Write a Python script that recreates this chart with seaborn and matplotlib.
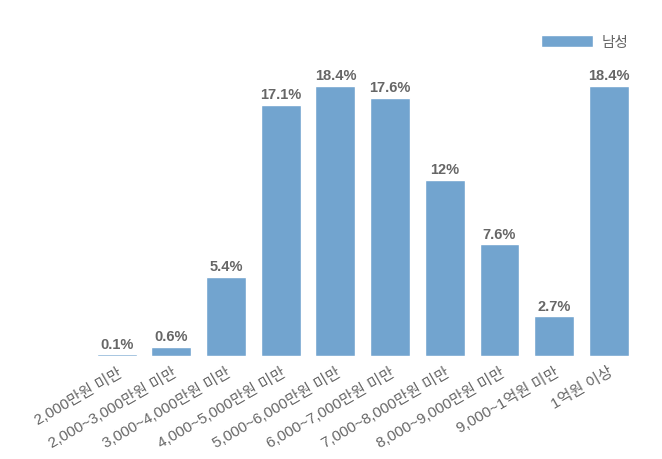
import matplotlib
matplotlib.use("Agg")
import matplotlib.pyplot as plt
import seaborn as sns
import pandas as pd

categories = ["2,000만원 미만", "2,000~3,000만원 미만", "3,000~4,000만원 미만",
              "4,000~5,000만원 미만", "5,000~6,000만원 미만", "6,000~7,000만원 미만",
              "7,000~8,000만원 미만", "8,000~9,000만원 미만", "9,000~1억원 미만", "1억원 이상"]
values = [0.1, 0.6, 5.4, 17.1, 18.4, 17.6, 12, 7.6, 2.7, 18.4]
value_labels = ["0.1%", "0.6%", "5.4%", "17.1%", "18.4%", "17.6%", "12%", "7.6%", "2.7%", "18.4%"]
series_name = "남성"

sns.set_theme(style="white")
plt.rcParams['font.family'] = ['Liberation Sans', 'Noto Sans CJK KR', 'DejaVu Sans']

df = pd.DataFrame({"cat": categories, "val": values, "series": series_name})

fig = plt.figure(figsize=(6.62, 4.6), dpi=100)
ax = fig.add_axes([0.135, 0.224, 0.826, 0.638])
color = "#72a4cf"
sns.barplot(data=df, x="cat", y="val", hue="series", palette=[color],
            width=0.73, ax=ax, saturation=1)

for i, (v, lab) in enumerate(zip(values, value_labels)):
    ax.text(i, v + 0.25, lab, ha="center", va="bottom", fontsize=10.5,
            fontweight="bold", color="#666666")

ax.set_ylim(0, 20)
ax.set_xlim(-0.5, len(categories) - 0.5)
ax.set_yticks([])
ax.set_xlabel("")
ax.set_ylabel("")
for s in ax.spines.values():
    s.set_visible(False)
ax.tick_params(axis="x", length=0, pad=6)
plt.setp(ax.get_xticklabels(), rotation=30, ha="right", rotation_mode="anchor",
         fontsize=11, color="#666666")

leg = ax.legend(loc="upper right", bbox_to_anchor=(1.01, 1.14), frameon=False,
                handlelength=3.6, handleheight=0.9, fontsize=10.5, labelcolor="#666666",
                handletextpad=0.6)

fig.savefig("out.png", dpi=100)
